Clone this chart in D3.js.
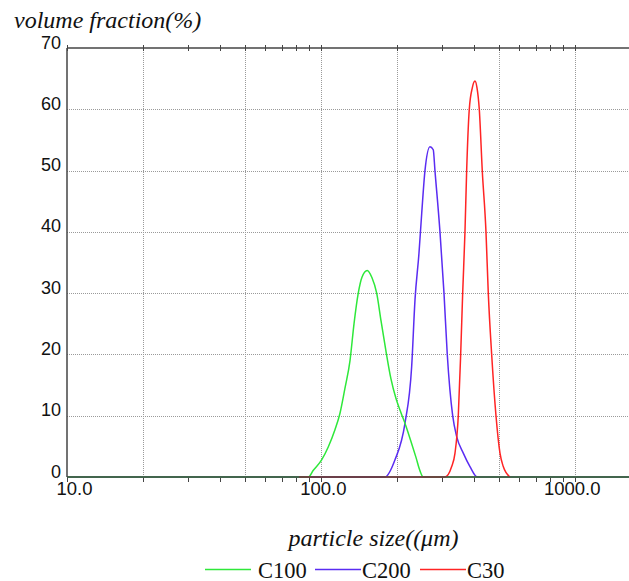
<!DOCTYPE html>
<html>
<head>
<meta charset="utf-8">
<script src="https://cdn.jsdelivr.net/npm/d3@7"></script>
<style>
  html, body { margin: 0; padding: 0; background: #fff; }
  svg { display: block; }
</style>
</head>
<body>
<div id="chart"></div>
<script>
// particle size distribution, 3 samples

var names = ["C100", "C200", "C30"];
var colors = ["#2ee83a", "#5a2cf2", "#ff2424"];

// C100 (green)
var c100Size = [10, 89.1, 93.3, 100.6, 106.8, 113.5, 118.8, 124.3, 130.1, 134.9, 140.2, 145, 152.1, 158.8, 165.7, 172.3, 180.3, 188.6, 197.4, 206.5, 216.1, 226.1, 236.6, 245.4, 252.8, 1632];
var c100Vol  = [0,  0,    1.1,  2.8,   4.9,   7.7,   10.4,  14.5,  19,    25,    30,    32.6, 33.7,  32.5,  30,    25.5,  20.5,  16,    12.8,  10.5,  8.3,   5.8,   3.2,   1,     0,     0];

// C200 (blue)
var c200Size = [10, 178.6, 195.6, 214.2, 227.5, 234.5, 243.1, 249.2, 256.7, 268.6, 276.7, 281, 294.1, 305, 314.2, 330, 342.2, 363.3, 386, 412.5, 1632];
var c200Vol  = [0,  0,     2.8,   8.8,   18,    28.9,  36.5,  43,    50,    53.9,  53.4,  50,  40,    30,  20,    10,  6.6,   3.9,   1.7, 0,     0];

// C30 (red)
var c30Size = [82, 307.8, 327, 337, 347.2, 354.8, 361.3, 368.9, 374.6, 383.6, 394.2, 403.9, 411.4, 420, 431.5, 446.3, 455.7, 469.9, 488.7, 506.7, 522, 554.6];
var c30Vol  = [0,  0,     1.7, 3.9, 10,    20,    30,    40,    50,    60,    63.5,  64.6,  63.5,  60,  50,    40,    30,    20,    10,    3.9,   1.7, 0];

var yTicks = [0, 10, 20, 30, 40, 50, 60, 70];
var xLabels = [10, 100, 1000];
var xGrid = [20, 50, 100, 200, 500, 1000];

var W = 629, H = 581;
var mLeft = 67, mTop = 48, mBottom = 477;

var x = d3.scaleLog().domain([10, 1632]).range([mLeft, W]);
var y = d3.scaleLinear().domain([0, 70]).range([mBottom, mTop]);

var svg = d3.select("#chart").append("svg").attr("width", W).attr("height", H);

// grid
svg.append("g").selectAll("line").data(yTicks.slice(1, -1)).enter().append("line")
    .attr("x1", mLeft).attr("x2", W)
    .attr("y1", function (d) { return Math.round(y(d)) + 0.5; }).attr("y2", function (d) { return Math.round(y(d)) + 0.5; })
    .attr("stroke", "#9a9a9a").attr("stroke-dasharray", "1,1");
svg.append("g").selectAll("line").data(xGrid).enter().append("line")
    .attr("x1", function (d) { return Math.round(x(d)) + 0.5; }).attr("x2", function (d) { return Math.round(x(d)) + 0.5; })
    .attr("y1", mTop).attr("y2", mBottom)
    .attr("stroke", "#9a9a9a").attr("stroke-dasharray", "1,1");

// minor ticks top and bottom
var minor = [];
[10, 100, 1000].forEach(function (dec) {
    for (var k = 1; k <= 9; k++) { if (dec * k <= 1632) minor.push(dec * k); }
});
svg.append("g").selectAll("line").data(minor).enter().append("line")
    .attr("x1", function (d) { return Math.round(x(d)) + 0.5; }).attr("x2", function (d) { return Math.round(x(d)) + 0.5; })
    .attr("y1", mBottom).attr("y2", mBottom + 5)
    .attr("stroke", "#444");
svg.append("g").selectAll("line").data(minor).enter().append("line")
    .attr("x1", function (d) { return Math.round(x(d)) + 0.5; }).attr("x2", function (d) { return Math.round(x(d)) + 0.5; })
    .attr("y1", mTop - 3).attr("y2", mTop + 3)
    .attr("stroke", "#444");

// curves
var line = d3.line()
    .x(function (d) { return x(d[0]); })
    .y(function (d) { return y(d[1]); })
    .curve(d3.curveMonotoneX);

var series = [
    { idx: 1, size: c200Size, vol: c200Vol },
    { idx: 0, size: c100Size, vol: c100Vol },
    { idx: 2, size: c30Size, vol: c30Vol }
];
series.forEach(function (s) {
    var pts = d3.zip(s.size, s.vol);
    svg.append("path").datum(pts)
        .attr("d", line)
        .attr("fill", "none")
        .attr("stroke", colors[s.idx])
        .attr("stroke-width", 1.5);
});

// frame
svg.append("line").attr("x1", mLeft).attr("x2", W).attr("y1", mTop).attr("y2", mTop)
    .attr("stroke", "#444").attr("stroke-width", 1.5);
svg.append("line").attr("x1", mLeft).attr("x2", W).attr("y1", mBottom).attr("y2", mBottom)
    .attr("stroke", "#444").attr("stroke-width", 1.5);
svg.append("line").attr("x1", mLeft).attr("x2", mLeft).attr("y1", mTop).attr("y2", mBottom)
    .attr("stroke", "#444").attr("stroke-width", 1.5);

// tick labels
svg.append("g").selectAll("text").data(yTicks).enter().append("text")
    .attr("x", 61).attr("y", function (d) { return y(d) + 0.5; })
    .attr("text-anchor", "end")
    .attr("font-family", "Liberation Sans, Arial, sans-serif")
    .attr("font-size", 18)
    .attr("fill", "#111")
    .text(function (d) { return d; });

svg.append("g").selectAll("text").data(xLabels).enter().append("text")
    .attr("x", function (d) { return x(d) + 25.5; }).attr("y", 495)
    .attr("text-anchor", "end")
    .attr("font-family", "Liberation Sans, Arial, sans-serif")
    .attr("font-size", 18.5)
    .attr("fill", "#111")
    .text(function (d) { return d3.format(".1f")(d); });

// axis titles
svg.append("text").attr("x", 14).attr("y", 28)
    .attr("font-family", "Liberation Serif, Times New Roman, serif")
    .attr("font-style", "italic").attr("font-size", 24)
    .attr("fill", "#111")
    .text("volume fraction(%)");
svg.append("text").attr("x", 373.5).attr("y", 546)
    .attr("text-anchor", "middle")
    .attr("font-family", "Liberation Serif, Times New Roman, serif")
    .attr("font-style", "italic").attr("font-size", 24)
    .attr("fill", "#111")
    .text("particle size((μm)");

// legend
var legLine = [205, 315, 420];
var legText = [258, 362, 467];
names.forEach(function (n, i) {
    svg.append("line").attr("x1", legLine[i]).attr("x2", legLine[i] + 46)
        .attr("y1", 569.5).attr("y2", 569.5)
        .attr("stroke", colors[i]).attr("stroke-width", 1.5);
    svg.append("text").attr("x", legText[i]).attr("y", 577.5)
        .attr("font-family", "Liberation Serif, Times New Roman, serif")
        .attr("font-size", 22.5)
        .attr("fill", "#111")
        .text(n);
});
</script>
</body>
</html>
